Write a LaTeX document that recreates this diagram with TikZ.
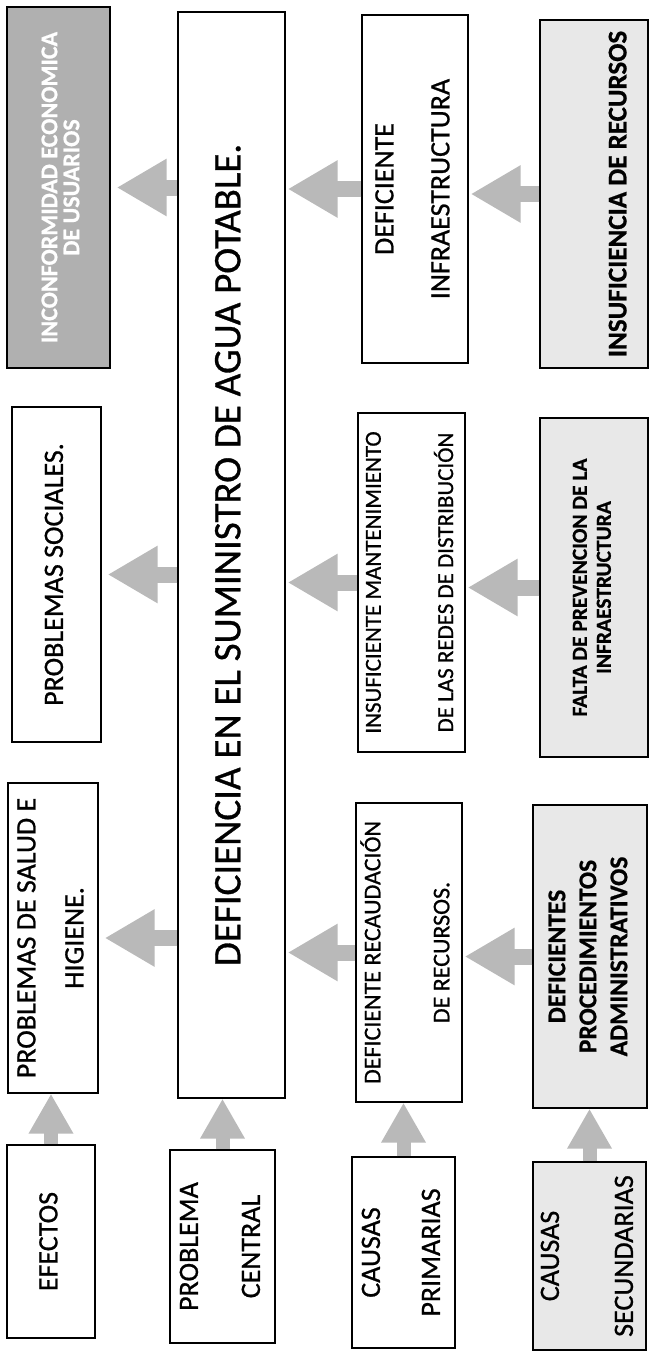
\documentclass[tikz,border=0pt]{standalone}
\usepackage{fontspec}
\usepackage{graphicx}
\setmainfont{Carlito}[FakeBold=0.8]
\usetikzlibrary{arrows.meta}

\newcommand{\tam}[2]{\fontsize{#1}{#2}\selectfont}
\newcommand{\girado}[2][0pt]{\rotatebox{90}{\raisebox{#1}[\height][\depth]{\begin{tabular}{@{}c@{}}#2\end{tabular}}}}

\begin{document}
\begin{tikzpicture}[x=1pt,y=-1pt,
    caja/.style={draw,line width=1.4pt,inner sep=0pt,font=\tam{28}{32}},
    gris/.style={fill=gray!18},
    flecha/.style={draw=gray!55,line width=16pt,-{Triangle[width=54pt,length=50pt]},shorten >=2pt},
    flechav/.style={draw=gray!55,line width=14pt,-{Triangle[width=42pt,length=40pt]}}]
  \useasboundingbox (0,0) rectangle (649,1354);

  % efectos
  \node[caja,fill=gray!62,text=white,font=\tam{24}{21}\bfseries,minimum width=103pt,minimum height=361pt] (inco) at (58.5,187.5) {\girado[-5pt]{INCONFORMIDAD ECONOMICA\\DE USUARIOS}};
  \node[caja,minimum width=89pt,minimum height=335pt] (soc) at (56.5,574.5) {\girado{PROBLEMAS SOCIALES.}};
  \node[caja,minimum width=90pt,minimum height=310pt] (salud) at (53,938) {\girado{PROBLEMAS DE SALUD E\\[16pt]HIGIENE.}};
  \node[caja,minimum width=88pt,minimum height=193pt] (efectos) at (51,1241.5) {\girado{EFECTOS}};

  % problema central
  \node[caja,font=\tam{39}{44},minimum width=107pt,minimum height=1086pt] (central) at (231.5,555) {\girado{DEFICIENCIA EN EL SUMINISTRO DE AGUA POTABLE.}};
  \node[caja,minimum width=105pt,minimum height=193pt] (lcentral) at (222.5,1246.5) {\girado{PROBLEMA\\[30pt]CENTRAL}};

  % causas primarias
  \node[caja,minimum width=106pt,minimum height=348pt] (infra) at (415,189) {\girado{DEFICIENTE\\[24pt]INFRAESTRUCTURA}};
  \node[caja,font=\tam{23}{27},minimum width=107pt,minimum height=339pt] (mant) at (411.5,582.5) {\girado{INSUFICIENTE MANTENIMIENTO\\[45pt]DE LAS REDES DE DISTRIBUCIÓN}};
  \node[caja,font=\tam{24}{28},minimum width=106pt,minimum height=299pt] (recaud) at (409,952.5) {\girado{DEFICIENTE RECAUDACIÓN\\[41pt]DE RECURSOS.}};
  \node[caja,minimum width=103pt,minimum height=191pt] (lprim) at (403.5,1252.5) {\girado{CAUSAS\\[28pt]PRIMARIAS}};

  % causas secundarias
  \node[caja,gris,font=\tam{27}{32}\bfseries,minimum width=108pt,minimum height=348pt] (recursos) at (594,194) {\girado[-26pt]{INSUFICIENCIA DE RECURSOS}};
  \node[caja,gris,font=\tam{21.5}{24}\bfseries,minimum width=108pt,minimum height=339pt] (prev) at (594,587.5) {\girado{FALTA DE PREVENCION DE LA\\INFRAESTRUCTURA}};
  \node[caja,gris,font=\tam{25.5}{31}\bfseries,minimum width=114pt,minimum height=303pt] (proced) at (590,956.5) {\girado{DEFICIENTES\\PROCEDIMIENTOS\\ADMINISTRATIVOS}};
  \node[caja,gris,minimum width=113pt,minimum height=188pt] (lsec) at (589.5,1256) {\girado{CAUSAS\\[42pt]SECUNDARIAS}};

  % flechas
  \foreach \e in {inco,soc,salud}
    \draw[flecha,shorten >=6pt] (central.west |- \e.east) -- (\e.east);
  \foreach \c in {infra,mant,recaud}
    \draw[flecha] (\c.west) -- (central.east |- \c.west);
  \foreach \c/\s in {infra/recursos,mant/prev,recaud/proced}
    \draw[flecha] (\s.west) -- (\s.west -| \c.east);
  \foreach \l/\b in {efectos/salud,lcentral/central,lprim/recaud,lsec/proced}
    \draw[flechav] (\l.north) -- (\l.north |- \b.south);
\end{tikzpicture}
\end{document}
